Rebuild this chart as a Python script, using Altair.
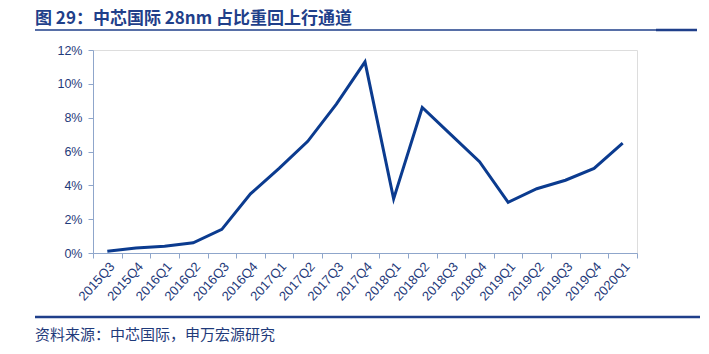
import altair as alt
import pandas as pd

quarters = ["2015Q3", "2015Q4", "2016Q1", "2016Q2", "2016Q3", "2016Q4",
            "2017Q1", "2017Q2", "2017Q3", "2017Q4", "2018Q1", "2018Q2",
            "2018Q3", "2018Q4", "2019Q1", "2019Q2", "2019Q3", "2019Q4", "2020Q1"]
share = [0.001, 0.003, 0.004, 0.006, 0.014, 0.035, 0.050, 0.066, 0.088, 0.113,
         0.032, 0.086, 0.070, 0.054, 0.030, 0.038, 0.043, 0.050, 0.065]

title_text = "图 29：中芯国际 28nm 占比重回上行通道"
source_text = "资料来源：中芯国际，申万宏源研究"

df = pd.DataFrame({"q": quarters, "v": share})

DARK = "#1F3A7A"
AXIS = "#8FA6CB"
LINE = "#0B3B8F"
HEAD = "#1F3F8A"

base = alt.Chart(df)

line = base.mark_line(color=LINE, strokeWidth=3, clip=False).encode(
    x=alt.X("q:O", sort=quarters, bandPosition=0.5,
            scale=alt.Scale(type="band", paddingInner=0, paddingOuter=0),
            axis=alt.Axis(title=None, labelAngle=-48, labelAlign="right",
                          labelBaseline="top", tickBand="extent",
                          labelColor=DARK, labelFont="Liberation Sans",
                          labelFontSize=13, domainColor=AXIS, tickColor=AXIS,
                          tickSize=5, labelPadding=2, labelOverlap=False)),
    y=alt.Y("v:Q", scale=alt.Scale(domain=[0, 0.12]),
            axis=alt.Axis(title=None, format=".0%",
                          values=[0, 0.02, 0.04, 0.06, 0.08, 0.10, 0.12],
                          labelColor=DARK, labelFont="Liberation Sans",
                          labelFontSize=12.5, domainColor=AXIS, tickColor=AXIS,
                          tickSize=5, labelPadding=6, grid=False)),
)

title = alt.Chart(pd.DataFrame({"t": [title_text]})).mark_text(
    align="left", baseline="middle", font="Noto Sans CJK SC", fontWeight="bold",
    fontSize=17, color=HEAD).encode(
    text="t:N", x=alt.value(-58), y=alt.value(-31))

top_rule = alt.Chart(pd.DataFrame({"a": [0]})).mark_rule(
    color=HEAD, strokeWidth=1.5).encode(
    x=alt.value(-58), x2=alt.value(563), y=alt.value(-20))
top_rule2 = alt.Chart(pd.DataFrame({"a": [0]})).mark_rule(
    color=HEAD, strokeWidth=2.5).encode(
    x=alt.value(563), x2=alt.value(604), y=alt.value(-20))

bottom_rule = alt.Chart(pd.DataFrame({"a": [0]})).mark_rule(
    color=HEAD, strokeWidth=2.5).encode(
    x=alt.value(-58), x2=alt.value(607), y=alt.value(267))

source = alt.Chart(pd.DataFrame({"t": [source_text]})).mark_text(
    align="left", baseline="middle", font="Noto Sans CJK SC",
    fontSize=15, color=DARK).encode(
    text="t:N", x=alt.value(-58), y=alt.value(285))

chart = alt.layer(line, title, top_rule, top_rule2, bottom_rule, source).properties(
    width=544, height=203,
    padding={"left": 93, "top": 50, "right": 72, "bottom": 101},
    autosize=alt.AutoSizeParams(type="none"),
).configure_view(stroke=None).configure(background="white")

chart.save("out.html", embed_options={"renderer": "svg", "actions": False})
